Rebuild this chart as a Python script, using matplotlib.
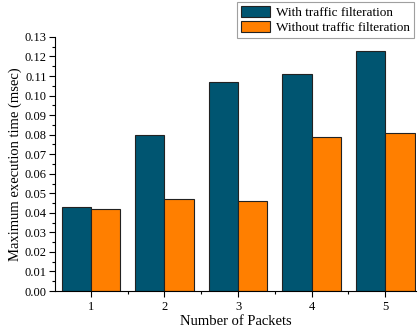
import matplotlib
matplotlib.use('Agg')
import matplotlib.pyplot as plt
import numpy as np

packets = [1, 2, 3, 4, 5]
with_filter = [0.043, 0.080, 0.107, 0.111, 0.123]
without_filter = [0.042, 0.047, 0.046, 0.079, 0.081]
labels = ['With traffic filteration', 'Without traffic filteration']

plt.rcParams['font.family'] = ['Liberation Serif']

fig = plt.figure(figsize=(4.19, 3.27), dpi=100)
ax = fig.add_axes([0.131, 0.110, 0.862, 0.777])

x = np.array(packets)
w = 0.4
ax.bar(x - w / 2, with_filter, w, color='#005571', edgecolor='#222222', linewidth=0.8, label=labels[0])
ax.bar(x + w / 2, without_filter, w, color='#ff7f00', edgecolor='#222222', linewidth=0.8, label=labels[1])

ax.set_xlim(0.51, 5.42)
ax.set_ylim(0, 0.13)
ax.set_yticks(np.arange(0, 0.131, 0.01))
ax.set_yticks(np.arange(0, 0.131, 0.005), minor=True)
ax.set_yticklabels(['%.2f' % v for v in np.arange(0, 0.131, 0.01)])
ax.set_xticks(packets)
ax.set_xticks([1.5, 2.5, 3.5, 4.5], minor=True)
ax.tick_params(axis='both', labelsize=9, direction='out', length=4, width=0.8)
ax.tick_params(axis='y', pad=2)
ax.tick_params(axis='both', which='minor', length=2.5, width=0.8)
ax.spines['top'].set_visible(False)
ax.spines['right'].set_visible(False)

ax.set_xlabel('Number of Packets', fontsize=10.5, labelpad=1)
ax.set_ylabel('Maximum execution time (msec)', fontsize=10.5, labelpad=2)

leg = fig.legend(loc='upper left', bbox_to_anchor=(0.566, 0.993), fontsize=9.5,
                 frameon=True, fancybox=False, edgecolor='#888888',
                 handlelength=2.2, handleheight=0.9, borderpad=0.3,
                 labelspacing=0.15, handletextpad=0.45, borderaxespad=0)
leg.get_frame().set_linewidth(0.8)

plt.savefig('out.png', dpi=100)
